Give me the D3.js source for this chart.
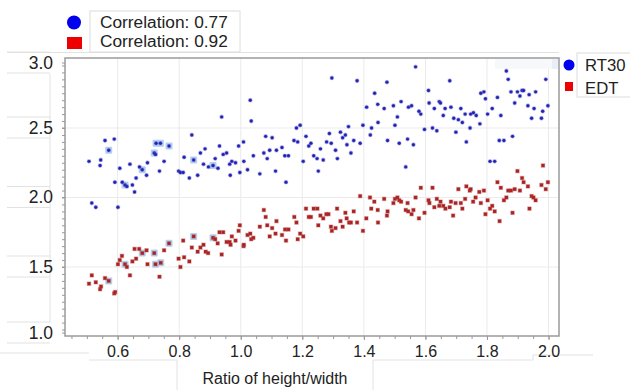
<!DOCTYPE html>
<html><head><meta charset="utf-8">
<script src="https://cdn.jsdelivr.net/npm/d3@7"></script>
<style>
body{margin:0;background:#fff}
svg{display:block}
text{font-family:Arial,"Liberation Sans",sans-serif;fill:#222}
</style>
</head><body><svg id="c" width="630" height="390"></svg>
<script>
const xTicks=[0.6,0.8,1.0,1.2,1.4,1.6,1.8,2.0];
const yTicks=[1.0,1.5,2.0,2.5,3.0];
const seriesNames=["RT30","EDT"];
const correlations=["Correlation: 0.77","Correlation: 0.92"];
const xLabel="Ratio of height/width";

const rt30=[[0.507,2.26],[0.516,1.96],[0.529,1.93],[0.545,2.27],[0.543,2.23],[0.559,2.41],[0.571,2.34],[0.589,2.42],[0.591,2.11],[0.601,1.93],[0.607,2.21],[0.615,2.11],[0.624,2.09],[0.630,2.08],[0.640,2.24],[0.648,2.09],[0.655,2.04],[0.660,2.14],[0.671,2.22],[0.680,2.20],[0.694,2.16],[0.697,2.25],[0.719,2.32],[0.723,2.31],[0.725,2.39],[0.736,2.19],[0.739,2.39],[0.751,2.26],[0.767,2.37],[0.798,2.19],[0.804,2.18],[0.813,2.18],[0.816,2.29],[0.833,2.14],[0.841,2.45],[0.847,2.27],[0.860,2.16],[0.869,2.32],[0.879,2.24],[0.884,2.35],
[0.895,2.22],[0.910,2.23],[0.917,2.28],[0.926,2.21],[0.931,2.37],[0.938,2.58],[0.943,2.31],[0.954,2.32],[0.964,2.24],[0.966,2.16],[0.971,2.26],[0.983,2.25],[0.993,2.37],[0.997,2.18],[1.009,2.40],[1.010,2.26],[1.022,2.20],[1.031,2.70],[1.034,2.55],[1.041,2.30],[1.062,2.17],[1.075,2.32],[1.081,2.44],[1.086,2.28],[1.094,2.34],[1.102,2.43],[1.113,2.19],[1.116,2.34],[1.134,2.36],[1.143,2.30],[1.147,2.11],[1.155,2.30],[1.173,2.41],[1.181,2.50],[1.185,2.40],[1.193,2.52],[1.203,2.26],[1.212,2.44],[1.221,2.37],[1.228,2.39],[1.237,2.30],[1.248,2.28],[1.252,2.19],[1.259,2.35],[1.268,2.27],
[1.279,2.40],[1.288,2.46],[1.294,2.39],[1.296,2.86],[1.308,2.34],[1.314,2.28],[1.324,2.47],[1.331,2.43],[1.340,2.45],[1.345,2.38],[1.350,2.51],[1.358,2.32],[1.367,2.41],[1.378,2.84],[1.388,2.39],[1.397,2.52],[1.409,2.65],[1.421,2.45],[1.425,2.50],[1.435,2.75],[1.445,2.67],[1.446,2.54],[1.466,2.64],[1.475,2.83],[1.477,2.41],[1.496,2.66],[1.501,2.52],[1.509,2.58],[1.515,2.39],[1.521,2.69],[1.536,2.22],[1.542,2.42],[1.545,2.65],[1.555,2.66],[1.561,2.38],[1.568,2.94],[1.579,2.62],[1.585,2.60],[1.597,2.49],[1.610,2.77],[1.612,2.68],[1.623,2.50],[1.629,2.64],[1.637,2.48],[1.645,2.69],[1.649,2.68],[1.658,2.59],[1.664,2.64],
[1.679,2.84],[1.683,2.65],[1.692,2.57],[1.699,2.47],[1.707,2.56],[1.715,2.64],[1.720,2.54],[1.729,2.60],[1.733,2.40],[1.745,2.50],[1.747,2.60],[1.756,2.61],[1.765,2.59],[1.777,2.53],[1.780,2.75],[1.790,2.76],[1.795,2.71],[1.802,2.60],[1.810,2.26],[1.817,2.64],[1.825,2.26],[1.834,2.72],[1.840,2.41],[1.845,2.59],[1.855,2.41],[1.863,2.91],[1.869,2.85],[1.878,2.76],[1.883,2.44],[1.890,2.68],[1.899,2.76],[1.907,2.73],[1.914,2.77],[1.919,2.77],[1.933,2.66],[1.937,2.74],[1.945,2.57],[1.953,2.64],[1.958,2.76],[1.977,2.57],[1.981,2.62],[1.991,2.85],[1.998,2.66]];

const edt=[[0.507,1.38],[0.516,1.44],[0.529,1.39],[0.543,1.34],[0.546,1.36],[0.559,1.42],[0.571,1.40],[0.589,1.31],[0.592,1.32],[0.601,1.52],[0.607,1.55],[0.614,1.58],[0.624,1.52],[0.630,1.50],[0.640,1.44],[0.648,1.54],[0.655,1.63],[0.660,1.56],[0.670,1.63],[0.680,1.60],[0.694,1.62],[0.697,1.52],[0.719,1.60],[0.723,1.52],[0.736,1.43],[0.740,1.53],[0.751,1.62],[0.767,1.67],[0.798,1.56],[0.804,1.50],[0.813,1.69],[0.816,1.57],[0.833,1.54],[0.841,1.64],[0.847,1.72],[0.860,1.61],[0.869,1.64],[0.879,1.66],
[0.886,1.61],[0.894,1.60],[0.910,1.71],[0.917,1.70],[0.925,1.67],[0.931,1.75],[0.938,1.59],[0.943,1.75],[0.954,1.68],[0.964,1.68],[0.967,1.66],[0.971,1.72],[0.983,1.69],[0.993,1.76],[0.997,1.80],[1.009,1.65],[1.010,1.66],[1.022,1.73],[1.031,1.74],[1.034,1.70],[1.041,1.71],[1.062,1.79],[1.075,1.91],[1.081,1.86],[1.086,1.80],[1.094,1.72],[1.102,1.78],[1.113,1.74],[1.116,1.83],[1.134,1.73],[1.144,1.77],[1.147,1.69],[1.155,1.77],[1.174,1.86],[1.181,1.82],[1.185,1.70],[1.193,1.74],[1.203,1.72],[1.212,1.92],[1.221,1.86],[1.228,1.86],[1.237,1.92],[1.249,1.92],[1.252,1.80],[1.259,1.87],[1.268,1.85],
[1.278,1.88],[1.285,1.88],[1.293,1.79],[1.296,1.76],[1.308,1.78],[1.313,1.92],[1.324,1.83],[1.331,1.79],[1.340,1.89],[1.344,1.85],[1.352,1.82],[1.358,1.82],[1.367,1.90],[1.378,1.82],[1.388,2.01],[1.397,1.76],[1.408,1.85],[1.420,2.00],[1.424,1.92],[1.434,1.97],[1.445,1.91],[1.446,1.82],[1.466,1.99],[1.475,1.87],[1.477,1.90],[1.496,1.96],[1.501,1.99],[1.509,2.00],[1.515,1.98],[1.521,1.97],[1.536,1.91],[1.542,1.96],[1.544,1.90],[1.555,1.88],[1.561,1.91],[1.568,2.00],[1.579,1.85],[1.585,2.07],[1.597,1.89],[1.610,1.98],[1.613,1.96],[1.623,2.07],[1.629,1.93],[1.637,1.99],[1.645,1.94],[1.649,1.97],[1.658,1.94],[1.665,1.92],
[1.679,1.93],[1.683,1.97],[1.690,1.87],[1.698,1.96],[1.707,2.06],[1.715,1.96],[1.720,1.92],[1.729,1.99],[1.733,2.08],[1.744,2.05],[1.747,2.06],[1.755,1.97],[1.763,2.00],[1.775,2.04],[1.780,1.96],[1.790,2.05],[1.795,1.88],[1.802,1.98],[1.810,1.92],[1.817,1.94],[1.825,1.90],[1.834,2.11],[1.841,1.83],[1.845,2.07],[1.855,1.98],[1.863,2.00],[1.869,2.05],[1.878,2.05],[1.883,1.89],[1.890,2.06],[1.899,2.19],[1.907,2.05],[1.914,2.14],[1.919,2.11],[1.933,2.08],[1.938,1.92],[1.945,2.01],[1.951,2.00],[1.958,1.98],[1.977,2.09],[1.982,2.23],[1.991,2.06],[1.998,2.11]];

const rt30Selected=[[0.571,2.34],[0.624,2.09],[0.680,2.20],[0.719,2.32],[0.725,2.39],[0.739,2.39],[0.767,2.37],[0.847,2.27],[0.910,2.23]];
const edtSelected=[[0.571,1.40],[0.624,1.52],[0.680,1.60],[0.719,1.60],[0.723,1.52],[0.740,1.53],[0.767,1.67],[0.847,1.72],[0.910,1.71]];

const svg=d3.select("#c");
const L=65,R=559,T=58,B=336;
const x=d3.scaleLinear().domain([0.429,2.034]).range([L,R]);
const y=d3.scaleLinear().domain([1,3]).range([336.5,58.5]);
const faint="#e2e2e2";
const FONT="Arial, 'Liberation Sans', sans-serif";

// faint label-box artifacts
const art=svg.append("g").attr("stroke",faint).attr("fill","none").attr("stroke-width",1);
art.append("line").attr("x1",7).attr("x2",R).attr("y1",52.5).attr("y2",52.5);
yTicks.forEach(v=>{
  let cy=Math.max(T+5,Math.min(B-3,y(v)));
  art.append("line").attr("x1",7).attr("x2",50).attr("y1",cy-11).attr("y2",cy-11);
  art.append("line").attr("x1",7).attr("x2",50).attr("y1",cy+10).attr("y2",cy+10);
});
art.append("line").attr("x1",50).attr("x2",50).attr("y1",74).attr("y2",322);
art.append("line").attr("x1",0).attr("x2",89).attr("y1",353).attr("y2",353);
art.append("line").attr("x1",89).attr("x2",177).attr("y1",360).attr("y2",360);
art.append("line").attr("x1",373).attr("x2",533).attr("y1",360).attr("y2",360);
art.append("line").attr("x1",533).attr("x2",533).attr("y1",360).attr("y2",355);
art.append("line").attr("x1",533).attr("x2",593).attr("y1",355).attr("y2",355);
art.append("line").attr("x1",177).attr("x2",177).attr("y1",360).attr("y2",390);
art.append("line").attr("x1",373).attr("x2",373).attr("y1",360).attr("y2",390);

// gridlines
const grid=svg.append("g").attr("stroke","#ebebeb").attr("stroke-width",1);
grid.selectAll(".gx").data(xTicks).join("line").attr("x1",d=>x(d)).attr("x2",d=>x(d)).attr("y1",T).attr("y2",B);
grid.selectAll(".gy").data(yTicks.slice(1,-1)).join("line").attr("x1",L).attr("x2",R).attr("y1",d=>y(d)).attr("y2",d=>y(d));

// toolbar ghost
svg.append("rect").attr("x",495).attr("y",59).attr("width",63).attr("height",10).attr("fill","#f6f8fa");
svg.append("rect").attr("x",552).attr("y",59).attr("width",6).attr("height",10).attr("fill","#e8eff8");

// minor ticks
const xMinor=d3.range(0.45,2.034,0.05);
svg.append("g").attr("transform",`translate(0,${B})`)
  .call(d3.axisBottom(x).tickValues(xMinor).tickSize(3).tickFormat(""))
  .call(g=>{g.select(".domain").remove();g.selectAll("line").attr("stroke","#999");});
const yMinor=d3.range(1.05,3.0,0.05);
svg.append("g").attr("transform",`translate(${L},0)`)
  .call(d3.axisLeft(y).tickValues(yMinor).tickSize(3).tickFormat(""))
  .call(g=>{g.select(".domain").remove();g.selectAll("line").attr("stroke","#999");});

// major axes
svg.append("g").attr("transform",`translate(0,${B})`)
  .call(d3.axisBottom(x).tickValues(xTicks).tickSize(4).tickPadding(6).tickFormat(d3.format(".1f")))
  .call(g=>{g.select(".domain").remove();g.selectAll("line").attr("stroke","#999");
    g.selectAll("text").attr("font-size",16).attr("fill","#222").attr("font-family",FONT);});
svg.append("g").attr("transform",`translate(${L},0)`)
  .call(d3.axisLeft(y).tickValues(yTicks).tickSize(3).tickPadding(9).tickFormat(d3.format(".1f")))
  .call(g=>{g.select(".domain").remove();g.selectAll("line").attr("stroke","#999");
    g.selectAll(".tick").attr("transform",d=>`translate(0,${Math.max(T+5,Math.min(B-3,y(d)))})`);
    g.selectAll("text").attr("font-size",17.5).attr("fill","#222").attr("font-family",FONT);});

// frame
svg.append("rect").attr("x",L).attr("y",T).attr("width",R-L).attr("height",B-T)
  .attr("fill","none").attr("stroke","#9a9a9a").attr("stroke-width",1.5);

// selection highlights
const sel=svg.append("g").attr("fill","#a9c9ef").attr("opacity",0.85);
sel.selectAll("rect").data(rt30Selected.concat(edtSelected)).join("rect")
  .attr("x",d=>x(d[0])-3.5).attr("y",d=>y(d[1])-3.5).attr("width",7).attr("height",7).attr("rx",1);

// points
svg.append("g").selectAll("circle").data(rt30).join("circle")
  .attr("cx",d=>x(d[0])).attr("cy",d=>y(d[1])).attr("r",1.7)
  .attr("fill","#1f1fb5").attr("stroke","rgba(90,90,200,0.35)").attr("stroke-width",1.4);
svg.append("g").selectAll("rect").data(edt).join("rect")
  .attr("x",d=>x(d[0])-1.7).attr("y",d=>y(d[1])-1.7).attr("width",3.4).attr("height",3.4)
  .attr("fill","#b01e1e").attr("stroke","rgba(170,80,80,0.35)").attr("stroke-width",1.2);

// top-left legend
svg.append("rect").attr("x",90).attr("y",11).attr("width",150).attr("height",41)
  .attr("fill","#fff").attr("stroke","#dcdcdc");
svg.append("circle").attr("cx",74).attr("cy",22.5).attr("r",7).attr("fill","#0000ee");
svg.append("rect").attr("x",67).attr("y",37).attr("width",15).attr("height",12).attr("fill","#ee0000");
svg.selectAll("text.corr").data(correlations).join("text").attr("class","corr")
  .attr("x",100).attr("y",(d,i)=>28+i*19).attr("font-size",17.3).text(d=>d);

// right legend
svg.append("rect").attr("x",577).attr("y",53).attr("width",60).attr("height",44)
  .attr("fill","#fff").attr("stroke","#dcdcdc");
svg.append("circle").attr("cx",569).attr("cy",65).attr("r",5.5).attr("fill","#0000ee");
svg.append("rect").attr("x",565).attr("y",82).attr("width",8).attr("height",9).attr("fill","#ee0000");
svg.selectAll("text.ser").data(seriesNames).join("text").attr("class","ser")
  .attr("x",585).attr("y",(d,i)=>70.5+i*23).attr("font-size",16.7).text(d=>d);

// x title
svg.append("text").attr("x",275).attr("y",384).attr("text-anchor","middle").attr("font-size",16).text(xLabel);
</script></body></html>
